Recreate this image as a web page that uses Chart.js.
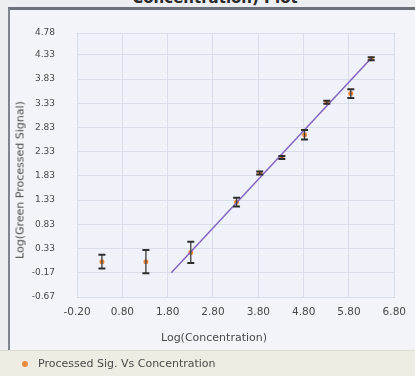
<!DOCTYPE html>
<html>
<head>
<meta charset="utf-8">
<script src="https://cdn.jsdelivr.net/npm/chart.js@4"></script>
<style>
  html, body { margin:0; padding:0; width:415px; height:376px; overflow:hidden; background:#eceef2; font-family:"DejaVu Sans", sans-serif; }
  #title { position:absolute; left:0; width:430px; top:-10px; text-align:center; font:bold 15px "DejaVu Sans", sans-serif; color:#2a2a2a; line-height:17px; }
  #frame { position:absolute; left:8px; top:7px; width:420px; height:380px; border-left:2px solid #80848d; border-top:3px solid #6c7079; background:#f2f4f9; }
  #c { position:absolute; left:0; top:0; }
  #ytitle { position:absolute; left:20px; top:180px; transform:translate(-50%,-50%) rotate(-90deg); white-space:nowrap; font-size:11px; color:#4a4a4a; }
  #xtitle { position:absolute; left:214px; top:337px; transform:translate(-50%,-50%); white-space:nowrap; font-size:11px; color:#4a4a4a; }
  #legend { position:absolute; left:0; top:350px; width:415px; height:26px; background:#eeece2; border-top:1px solid #dedbd0; font-size:11px; color:#4a4a4a; }
  #legend .dot { position:absolute; left:22px; top:10px; width:6px; height:6px; border-radius:50%; background:#f08a3c; }
  #legend .txt { position:absolute; left:38px; top:6px; white-space:nowrap; }
</style>
</head>
<body>
<div id="title">Concentration) Plot</div>
<div id="frame"></div>
<canvas id="c" width="415" height="376"></canvas>
<div id="ytitle">Log(Green Processed Signal)</div>
<div id="xtitle">Log(Concentration)</div>
<div id="legend"><span class="dot"></span><span class="txt">Processed Sig. Vs Concentration</span></div>
<script>
'use strict';
// ── Data ──────────────────────────────────────────────────
const X_TICKS = [-0.2, 0.8, 1.8, 2.8, 3.8, 4.8, 5.8, 6.8];
const Y_TICKS = [-0.67, -0.17, 0.33, 0.83, 1.33, 1.83, 2.33, 2.83, 3.33, 3.83, 4.33, 4.78];
const LOG_CONC   = [0.35, 1.32, 2.31, 3.32, 3.83, 4.32, 4.82, 5.31, 5.84, 6.29];
const LOG_SIGNAL = [0.06, 0.06, 0.25, 1.29, 1.89, 2.21, 2.68, 3.35, 3.53, 4.25];
const SIGNAL_ERR = [0.14, 0.24, 0.22, 0.09, 0.03, 0.03, 0.10, 0.03, 0.09, 0.03];
const FIT_X = [1.88, 6.29];
const FIT_Y = [-0.17, 4.26];

const TEXT = '#4a4a4a';
const GRID = '#d8dde9';

const points = LOG_CONC.map((x, i) => ({ x, y: LOG_SIGNAL[i] }));
const errBars = [];
LOG_CONC.forEach((x, i) => {
  errBars.push({ x, y: LOG_SIGNAL[i] - SIGNAL_ERR[i] });
  errBars.push({ x, y: LOG_SIGNAL[i] + SIGNAL_ERR[i] });
  errBars.push({ x, y: null });
});
const fit = FIT_X.map((x, i) => ({ x, y: FIT_Y[i] }));

const plotBg = {
  id: 'plotBg',
  beforeDraw(chart) {
    const { ctx, chartArea: a } = chart;
    ctx.save();
    ctx.fillStyle = '#eff2f9';
    ctx.fillRect(a.left, a.top, a.right - a.left, a.bottom - a.top);
    ctx.restore();
  }
};

new Chart(document.getElementById('c').getContext('2d'), {
  type: 'scatter',
  data: {
    datasets: [
      { label: 'Processed Sig. Vs Concentration', data: points, backgroundColor: '#f08a3c', borderColor: '#e0762a',
        borderWidth: 0, pointRadius: 2.5, order: 3 },
      { label: 'fit', data: fit, showLine: true, borderColor: '#8466c2', borderWidth: 1.5, pointRadius: 0, order: 2 },
      { label: 'err', data: errBars, showLine: true, spanGaps: false, borderColor: '#3d3d3d', borderWidth: 1.3,
        pointStyle: 'line', pointRadius: 3.5, pointBorderColor: '#2e2e2e', pointBorderWidth: 2, order: 1 },
    ]
  },
  options: {
    responsive: false, animation: false,
    layout: { padding: { left: 0, top: 33, right: 20, bottom: 376 - 297 - 30 } },
    plugins: { legend: { display: false }, tooltip: { enabled: false } },
    scales: {
      x: {
        type: 'linear', min: -0.2, max: 6.8,
        afterBuildTicks: s => { s.ticks = X_TICKS.map(value => ({ value })); },
        afterFit: s => { s.height = 30; },
        grid: { color: GRID, tickLength: 0 },
        border: { color: GRID },
        ticks: { color: TEXT, padding: 9, font: { family: 'DejaVu Sans', size: 10.5 }, maxRotation: 0,
                 callback: v => Number(v).toFixed(2) }
      },
      y: {
        type: 'linear', min: -0.67, max: 4.78,
        afterBuildTicks: s => { s.ticks = Y_TICKS.map(value => ({ value })); },
        afterFit: s => { s.width = 77; },
        grid: { color: GRID, tickLength: 0 },
        border: { color: GRID },
        ticks: { color: TEXT, padding: 22, font: { family: 'DejaVu Sans', size: 9 },
                 callback: v => Number(v).toFixed(2) }
      }
    }
  },
  plugins: [plotBg]
});
</script>
</body>
</html>
